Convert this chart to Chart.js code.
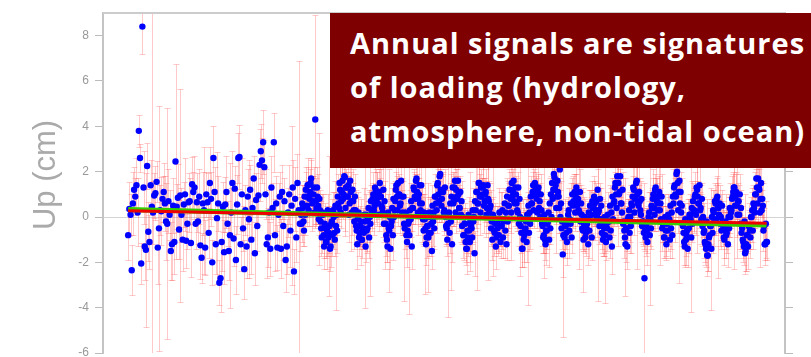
<!DOCTYPE html>
<html>
<head>
<meta charset="utf-8">
<script src="https://cdn.jsdelivr.net/npm/chart.js@4.4.0/dist/chart.umd.min.js"></script>
<style>
  body { margin: 0; background: #fff; }
  #wrap { position: relative; width: 811px; height: 357px; overflow: hidden; }
  #upTitle {
    position: absolute; left: -55px; top: 157px; width: 200px; height: 36px;
    line-height: 36px; text-align: center; transform: rotate(-90deg);
    font-family: "Liberation Sans", Arial, sans-serif; font-size: 31px; color: #aaa;
  }
  #note {
    position: absolute; left: 330px; top: 13px; width: 481px; height: 155px;
    box-sizing: border-box; padding: 8px 0 0 20px; background: #7f0000; color: #fff;
    font-family: "Open Sans", Lato, sans-serif; font-weight: bold; font-size: 29px;
    letter-spacing: 1px; line-height: 44px; white-space: nowrap; overflow: hidden;
  }
</style>
</head>
<body>
<div id="wrap">
  <canvas id="upChart" width="811" height="357"></canvas>
  <div id="upTitle">Up (cm)</div>
  <div id="note">Annual signals are signatures<br>of loading (hydrology,<br>atmosphere, non-tidal ocean)</div>
</div>
<script>
// sampling of the solutions (decimal years)
const epochStart = 1997.0;
const epochStep = 0.032;

// vertical position (cm)
const upEarly = [
  -0.8, 0.35, 0.1, -2.35, 0.6, 1.2, 0.9, 1.4, 0.2, 3.8,
  2.6, -2.05, 8.4, 1.3, -1.3, -1.45, 2.25, -0.65, -1.1, 1.4,
  0.45, 0.2, 0.95, 1.05, 1.55, -1.35, -0.5, 0.3, 0.25, 0.8,
  1.1, 0.6, -0.2, -0.3, 0.7, 0.1, -1.5, -1.2, 0.5, -1.1,
  2.45, 0.45, 0.85, -0.55, 0.95, 0.1, -1.0, 0.55, 1.0, -1.05,
  -0.3, 0.65, 0.7, -1.15, 1.45, 1.1, 1.3, -0.3, 0.65, -0.2,
  0.9, -1.25, -1.8, 0.6, 0.3, -1.35, 1.0, 0.65, -0.7, 1.5,
  0.8, -2.0, 2.6, 1.1, -1.2, -0.05, 0.6, -2.9, -2.7, -1.1,
  0.45, -1.55, 0.55, 1.1, -0.3, -1.5, -0.8, 0.2, 1.5, -0.95,
  1.25, -1.9, 0.55, 2.6, 2.65, -1.2, 1.0, -0.5, -2.3, 0.3,
  -1.3, 0.9, -0.1, 1.2, -1.0, 0.4, 1.7, -1.6, 0.75, -0.4,
  0.95, 2.3, 2.9, 2.5, 3.3, 2.2, 1.0, -1.2, -0.9, 0.2,
  -1.4, 1.3, 0.4, 3.3, -0.8, 0.6, -1.35, 0.1, 0.9, -1.4,
  1.1, -0.4, 0.7, -1.9, -1.3, 0.2, 1.0, -0.6, 0.5, 1.3,
  -2.4, 0.8, -0.9, 1.5, 0.3, -0.3
];

// late part, one row per half cycle (rise to a peak / fall to a trough)
const upLate = [
  0.1, 0.6, -0.2, 0.9, 1.2, 0.5, 1.4, 0.8, 1.5,
  1.0, 0.7, 1.3, 4.3, 0.4, 0.9, -0.1, 0.3, -0.5, 0.2, -0.8, -0.3, -1.1, -0.6, -0.9,
  -0.4, -1.3, -0.2, 0.3, -0.7, 0.5, 0.1, 0.9, 0.4, 1.2, 0.7, 1.6, 1.0, 1.75, 1.3,
  0.9, 1.4, 0.6, 1.1, 0.2, 0.7, -0.2, 0.3, -0.6, -0.1, -0.9, -0.4, -1.0, -0.5,
  -0.7, -0.2, 0.1, -0.5, 0.4, 0.0, 0.7, 0.3, 1.0, 0.5, 1.2, 0.8, 0.6, 1.1, 0.9,
  0.5, 0.2, -0.3, 0.1, -0.8, -1.3, -0.5,
  0.0, -0.4, 0.4, 0.8, 0.3, 1.2, 0.9, 1.5,
  1.0, 0.6, 0.9, 0.1, -0.3, 0.2, -0.8, -0.6,
  -0.2, 0.3, 0.7, 0.4, 1.3, 0.9, 1.6,
  1.1, 0.8, 1.4, 0.3, 0.6, -0.1, 0.2, -0.5, -0.9, -0.4,
  -0.7, 0.0, -0.3, 0.5, 0.2, 0.9, 0.6, 1.4, 1.0, 1.8, 1.2,
  0.8, 1.1, 0.3, 0.0, -0.5, -0.3,
  0.2, 0.6, 0.9, 1.3, 0.7, 1.6, 1.2,
  0.8, 1.0, 0.4, 0.1, -0.4, -0.8, -0.3, -1.1, -1.4, -0.9,
  -0.6, -0.2, -0.5, 0.3, 0.0, 0.7, 1.1, 0.6, 1.5, 0.9, 1.3,
  1.0, 1.4, 0.7, 1.1, 0.4, 0.8, 0.2, 0.5, -0.2, 0.1, -0.6, -0.3, -0.9, -0.5, -0.8,
  -0.4, -0.1, 0.3, -0.2, 0.6, 0.2, 0.9, 0.5, 1.2, 0.8, 1.5, 1.1, 0.7, 1.3,
  0.6, 0.2, -0.3, 0.0, -0.7, -1.4, -1.0,
  -0.6, -0.2, 0.1, 0.5, 0.2, 0.9, 0.6, 1.4, 1.0, 1.3,
  0.8, 1.1, 0.4, 0.0, 0.3, -0.4, -0.8, -1.0, -0.6,
  -0.3, 0.2, 0.6, 1.0, 1.5, 1.2, 1.75, 1.4,
  0.9, 1.1, 0.4, 0.0, -0.5, -1.65, -0.8, -0.4, -0.7,
  -0.2, 0.3, -0.1, 0.6, 1.0, 0.7, 1.1, 0.9,
  0.5, 0.8, 0.2, -0.2, 0.1, -0.6, -0.3, -0.9, -0.5,
  -0.1, 0.2, 0.5, 0.1, 0.7, 0.4, 0.6, 0.3,
  0.0, 0.2, -0.4, -0.1, -0.7, -1.0, -0.5, -0.8, -0.3,
  0.1, -0.2, 0.5, 0.2, 0.9, 0.6, 1.3, 1.0, 1.8, 1.5,
  1.1, 0.6, 0.2, -0.3, -0.6, -1.2,
  -0.5, -0.1, 0.3, 0.0, 0.6, 0.9, 1.2, 0.8, 1.5,
  1.0, 0.5, 0.7, 0.1, -0.4, -0.2, -2.7, -0.9,
  -0.6, -0.2, 0.2, -0.1, 0.5, 0.8, 0.4, 1.2, 0.9,
  0.6, 0.9, 0.3, -0.1, -0.5, -0.3, -0.9, -0.6,
  -0.3, 0.1, -0.1, 0.5, 0.2, 0.9, 1.3, 1.0, 1.9, 1.5,
  1.1, 0.6, 0.2, -0.3, -0.7, -1.3, -1.0,
  -0.6, -0.2, 0.1, -0.1, 0.4, 0.7, 0.3, 1.0, 1.3, 0.9,
  0.6, 0.3, -0.1, -0.4, -0.7, -1.1, -1.4, -1.7, -1.2,
  -0.8, -0.4, 0.0, 0.3, -0.2, 0.6, 0.8,
  0.4, 0.1, -0.3, -0.6, -0.2, -0.9, -0.5, -0.8,
  -0.4, 0.0, 0.4, 0.2, 0.8, 1.1, 1.3,
  0.9, 0.5, 0.7, 0.1, -0.3, -0.7, -1.0, -1.3, -1.6, -1.2,
  -0.8, -0.4, -0.6, 0.0, 0.3, 0.6, 0.2, 1.0, 1.3, 1.7,
  1.2, 0.8, 0.3, 0.5, -0.4, -1.2, -1.1
];

// second solution of each late epoch (half a step later), one row per high / low cluster
const upLateB = [
  -0.3, 0.4, -0.6, 0.1,
  0.9, 1.4, 0.3, 1.1, 1.7, 0.6, 1.0, 0.2, 0.7, 1.3, 0.5, 0.8,
  -0.2, -0.9, 0.1, -1.3, -0.5, -1.1, 0.3, -0.7, -1.4, -0.3, -0.8, 0.0, -1.0, -0.4, -0.6,
  0.6, 1.5, 0.2, 1.1, 0.8, 1.8, 0.4, 1.3, 0.9, 0.1, 1.6, 0.7, 1.2, 0.3, 0.9,
  -0.4, -1.2, 0.2, -0.7, -0.2, -1.0, -0.5, 0.1, -1.3, -0.6, -0.1, -0.9, -0.3, 0.3,
  0.8, 0.3, 1.3, 0.6, 1.0, 0.1, 1.5, 0.9, 0.4, 1.2, 0.7,
  -0.3, -1.0, 0.2, -0.6, -1.4, -0.2, -0.8, 0.0,
  0.7, 1.4, 0.3, 1.0, 0.5, 1.6, 0.2, 0.9,
  -0.5, 0.1, -1.1, -0.3, -0.8, -0.1, -1.3,
  0.4, 1.2, 0.8, 1.7, 0.2, 1.0, 0.6, 1.4, 0.1,
  -0.6, -0.1, -1.2, -0.4, -0.9, 0.2, -0.7, -1.5, -0.2, -0.5,
  0.9, 0.3, 1.5, 0.7, 1.9, 0.5, 1.1, 0.2, 1.3,
  -0.4, -1.0, 0.1, -0.7, -0.2, -1.2,
  0.6, 1.3, 0.2, 0.9, 1.6, 0.4, 1.1, 0.7, 0.0,
  -0.8, -0.3, -1.4, -0.6, 0.1, -1.1, -0.4, -0.9, -0.2, -1.6,
  0.3, 1.1, 0.6, 1.5, 0.2, 0.9, 1.3, 0.5, 1.0, 0.1, 1.4, 0.7, 0.4,
  -0.5, -1.0, 0.0, -0.7, -1.3, -0.3, -0.8, 0.2, -1.1, -0.4, -0.9, -0.1, -0.6, -1.2, -0.2,
  0.5, 1.2, 0.2, 0.9, 1.6, 0.6, 1.0, 0.3, 1.3, 0.8,
  -0.4, -1.4, -0.1, -0.8, -0.5, -1.1, 0.1, -0.7, -0.3,
  0.6, 1.1, 0.3, 1.5, 0.9, 0.2, 1.3, 0.7, 1.0,
  -0.3, -0.9, 0.1, -1.2, -0.6, -0.2, -1.0, -0.5, 0.0,
  0.8, 1.9, 1.2, 0.4, 1.6, 0.9, 2.1, 0.6,
  -0.2, -0.8, -0.9, -0.4, -1.1, 0.1, -0.6, -0.3, -0.9,
  0.5, 1.0, 0.2, 1.3, 0.7, 0.3, 1.1, 0.6,
  -0.5, -1.0, 0.0, -0.7, -0.3, -1.2, -0.6, 0.1, -0.9,
  0.4, 0.9, 0.1, 0.7, 1.2, 0.3, 0.8, 0.5,
  -0.3, -0.8, 0.0, -1.1, -0.5, -0.2, -0.9, -0.6, -1.3, -0.1,
  0.7, 1.5, 0.4, 2.3, 1.0, 1.8, 0.6, 1.2,
  -0.2, -0.9, -0.5, -1.3, 0.0, -0.7, -0.4,
  0.5, 1.3, 0.2, 0.9, 1.6, 0.6, 1.1, 0.3, 0.8,
  -0.2, -0.7, -0.6, -0.4, -1.1, 0.0, -0.8, -0.5,
  0.4, 1.0, 0.1, 1.3, 0.7, 0.3, 1.1, 0.6, 0.9,
  -0.3, -0.9, 0.0, -1.2, -0.6, -0.2, -1.0, -0.5, -0.8,
  0.6, 1.4, 0.9, 2.0, 0.3, 1.6, 1.1, 0.5,
  -0.4, -1.1, -0.1, -0.8, -1.4, -0.5, 0.1, -0.9, -0.3,
  0.3, 0.9, 0.1, 1.2, 0.6, 1.4, 0.4, 0.8, 0.0,
  -0.6, -1.2, -0.2, -1.7, -0.9, -0.4, -1.4, -0.7,
  0.2, 0.7, -0.1, 0.9, 0.4, 0.6, 0.0, 0.5,
  -0.4, -1.0, -0.2, -0.7, -1.2, -0.5, 0.0,
  0.3, 0.9, 1.3, 0.5, 1.1, 0.1, 0.7, 1.0, 0.4,
  -0.5, -1.1, -0.2, -1.5, -0.8, -1.3, -0.4, -0.9, 0.0, -0.6,
  0.4, 1.0, 1.7, 0.6, 1.3, 0.2, 1.5, 0.8,
  -0.6, -1.2, -0.3, -1.1
];

// one-sigma uncertainties (cm)
const sigmaEarly = [
  1.1, 1.2, 0.9, 1.1, 1.4, 1.0, 0.8, 1.2, 1.5, 0.7,
  0.6, 0.9, 1.2, 1.6, 1.5, 3.4, 1.0, 1.3, 1.2, 1.1,
  9.5, 1.4, 1.0, 1.2, 0.9, 1.6, 5.4, 1.1, 1.5, 1.0,
  1.3, 1.2, 1.7, 5.1, 1.4, 1.1, 1.3, 1.6, 1.2, 1.4,
  4.3, 1.0, 1.5, 1.3, 4.7, 1.2, 1.4, 1.0, 1.6, 1.2,
  1.1, 1.3, 1.0, 1.5, 1.2, 0.9, 1.4, 1.1, 1.3, 1.0,
  1.2, 1.5, 1.1, 1.4, 2.8, 1.2, 1.0, 1.3, 1.1, 1.6,
  1.2, 1.0, 1.4, 1.1, 1.3, 2.9, 1.2, 1.0, 1.5, 1.3,
  1.1, 1.4, 1.2, 1.6, 1.0, 1.3, 3.2, 1.1, 1.4, 1.2,
  1.0, 1.5, 1.3, 1.1, 1.4, 1.2, 1.6, 1.0, 1.3, 1.1,
  1.4, 1.2, 2.6, 1.1, 1.5, 1.3, 1.0, 1.4, 1.2, 1.1,
  1.3, 1.6, 1.2, 1.0, 1.4, 1.2, 1.1, 1.5, 1.3, 1.0,
  1.2, 1.4, 1.1, 1.3, 1.6, 1.2, 1.0, 1.4, 1.1, 1.3,
  1.2, 1.5, 1.0, 1.4, 1.2, 1.1, 1.3, 1.6, 3.5, 1.2,
  1.0, 1.4, 1.1, 1.3, 6.6, 1.2
];

const sigmaLate = [
  0.9, 0.8, 1.1, 0.7, 1.0, 0.9, 1.2, 0.8, 1.0, 0.7,
  1.1, 0.9, 4.6, 0.8, 1.0, 0.7, 0.9, 1.2, 0.8, 1.0,
  0.9, 0.7, 1.1, 0.8, 3.1, 0.9, 1.0, 0.8, 0.7, 1.1,
  0.9, 1.0, 0.8, 1.2, 0.7, 0.9, 1.0, 2.6, 0.8, 0.9,
  1.1, 0.7, 0.9, 1.0, 0.8, 1.2, 0.9, 0.7, 1.0, 0.8,
  0.9, 1.1, 0.8, 0.7, 3.8, 0.9, 1.0, 0.8, 1.1, 0.7,
  0.9, 1.0, 0.8, 0.9, 1.2, 0.7, 1.0, 0.8, 0.9, 1.1,
  0.8, 2.4, 0.9, 0.7, 1.0, 0.8, 1.1, 0.9, 0.7, 1.0,
  0.8, 0.9, 1.2, 0.7, 1.0, 0.8, 0.9, 3.4, 0.8, 1.0,
  0.7, 1.1, 0.9, 0.8, 1.0, 0.7, 0.9, 1.2, 0.8, 0.9,
  1.0, 0.7, 0.9, 1.1, 0.8, 2.9, 0.9, 0.7, 1.0, 0.8,
  1.2, 0.9, 0.7, 1.0, 0.8, 0.9, 1.1, 0.7, 0.9, 1.0,
  0.8, 0.9, 1.2, 0.7, 4.1, 0.8, 0.9, 1.0, 0.7, 1.1,
  0.8, 0.9, 1.0, 0.7, 0.9, 1.2, 0.8, 1.0, 0.7, 0.9,
  1.1, 0.8, 0.9, 2.2, 0.7, 1.0, 0.8, 0.9, 1.1, 0.7,
  0.9, 1.0, 0.8, 0.7, 1.2, 0.9, 1.0, 0.8, 3.6, 0.9,
  0.7, 1.0, 0.8, 1.1, 0.9, 0.7, 1.0, 0.8, 0.9, 1.2,
  0.8, 0.9, 0.7, 1.0, 0.8, 1.1, 0.9, 2.7, 0.8, 1.0,
  0.7, 0.9, 1.1, 0.8, 1.0, 0.7, 0.9, 0.8, 1.2, 0.9,
  1.0, 0.8, 4.4, 0.7, 0.9, 1.0, 0.8, 1.1, 0.7, 0.9,
  0.8, 1.0, 0.9, 0.7, 1.2, 0.8, 0.9, 1.0, 0.7, 0.9,
  1.1, 0.8, 0.9, 0.7, 1.0, 3.0, 0.8, 0.9, 1.1, 0.7,
  0.9, 1.0, 0.8, 1.2, 0.7, 0.9, 1.0, 0.8, 0.9, 0.7,
  1.1, 0.8, 1.0, 0.9, 0.7, 2.5, 0.8, 1.0, 0.9, 1.2,
  0.7, 0.9, 0.8, 1.0, 0.7, 1.1, 0.9, 0.8, 1.0, 0.7,
  0.9, 3.9, 0.8, 1.0, 0.9, 0.7, 1.2, 0.8, 0.9, 1.0,
  0.7, 0.9, 1.1, 0.8, 1.0, 0.7, 0.9, 0.8, 2.8, 1.0,
  0.8, 0.9, 0.7, 1.2, 0.8, 1.0, 0.9, 0.7, 1.1, 0.8,
  0.9, 1.0, 0.7, 0.8, 3.3, 0.9, 1.0, 0.8, 0.7, 1.1,
  4.2, 0.8, 1.0, 0.7, 0.9, 1.2, 0.8, 0.9, 1.0, 0.7,
  0.8, 1.1, 0.9, 2.4, 0.7, 1.0, 0.8, 0.9, 1.1, 0.8,
  0.9, 0.7, 1.0, 0.8, 1.2, 0.9, 0.7, 1.0, 0.8, 4.0,
  0.9, 0.8, 1.0, 0.7, 0.9, 1.1, 0.8, 1.0, 0.7, 0.9,
  1.2, 0.8, 0.9, 1.0, 2.9, 0.7, 0.9, 0.8, 1.1, 0.9,
  0.7, 1.0, 0.8, 0.9, 1.2, 0.7, 1.0, 0.8, 0.9, 1.1,
  0.8, 0.9, 3.1, 0.7, 1.0, 0.8, 0.9, 1.2, 0.7, 1.0,
  0.8, 0.9, 1.1, 0.7, 1.0, 0.8, 0.9, 1.0, 2.3, 0.8,
  0.9, 1.1, 0.7, 1.0, 0.8, 0.9, 1.2, 0.7, 1.0, 0.8,
  0.9, 1.0, 0.8, 0.7, 1.1, 0.9, 0.8, 1.0, 0.7, 0.9,
  1.0, 0.8, 0.9, 0.7
];

const sigmaLateB = [
  0.8, 1.0, 0.7, 0.9, 1.1, 0.8, 0.7, 1.0, 0.9, 1.2,
  0.8, 0.7, 1.0, 0.9, 0.8, 2.9, 1.1, 0.7, 0.9, 1.0,
  0.8, 1.2, 0.7, 0.9, 1.0, 0.8, 0.9, 1.1, 0.7, 3.7,
  1.0, 0.8, 0.9, 0.7, 1.1, 0.9, 0.8, 1.0, 0.7, 0.9,
  1.2, 0.8, 2.2, 0.9, 0.7, 1.0, 0.8, 1.1, 0.9, 0.7,
  1.0, 0.8, 0.9, 1.2, 0.7, 1.0, 0.8, 0.9, 3.2, 0.8,
  0.7, 1.1, 0.9, 0.8, 1.0, 0.7, 0.9, 1.2, 0.8, 1.0,
  0.9, 0.7, 1.0, 0.8, 2.7, 0.9, 0.7, 1.1, 0.8, 0.9,
  1.0, 0.7, 0.9, 1.2, 0.8, 1.0, 0.7, 0.9, 0.8, 1.1,
  0.9, 3.5, 0.8, 1.0, 0.7, 0.9, 1.1, 0.8, 1.0, 0.7,
  0.9, 0.8, 1.2, 0.7, 1.0, 0.9, 0.8, 2.4, 0.7, 1.0,
  0.8, 1.1, 0.9, 0.7, 1.0, 0.8, 0.9, 1.2, 0.7, 0.9,
  1.0, 0.8, 0.9, 0.7, 1.1, 0.9, 3.0, 0.8, 1.0, 0.7,
  0.9, 1.2, 0.8, 1.0, 0.7, 0.9, 0.8, 1.1, 0.9, 0.7,
  1.0, 0.8, 0.9, 1.1, 0.7, 0.9, 1.0, 0.8, 4.3, 0.9,
  0.7, 1.0, 0.8, 0.9, 1.2, 0.7, 1.0, 0.8, 0.9, 1.1,
  0.8, 0.9, 2.6, 0.7, 1.0, 0.8, 0.9, 1.1, 0.7, 1.0,
  0.9, 0.8, 1.2, 0.7, 0.9, 1.0, 0.8, 0.9, 1.1, 0.7,
  1.0, 0.8, 0.9, 0.7, 3.4, 1.0, 0.8, 0.9, 1.2, 0.7,
  0.9, 1.0, 0.8, 1.1, 0.7, 0.9, 0.8, 1.0, 0.9, 0.7,
  1.1, 0.8, 0.9, 1.0, 0.7, 2.8, 0.9, 0.8, 1.0, 1.2,
  0.7, 0.9, 0.8, 1.0, 0.9, 0.7, 1.1, 0.8, 0.9, 1.0,
  0.8, 4.5, 0.9, 0.7, 1.0, 0.8, 1.2, 0.9, 0.7, 1.0,
  0.9, 0.8, 1.1, 0.7, 0.9, 1.0, 0.8, 0.9, 2.3, 0.8,
  1.0, 0.7, 0.9, 1.2, 0.8, 1.0, 0.7, 0.9, 1.1, 0.8,
  0.9, 1.0, 0.7, 0.8, 1.1, 0.9, 3.8, 0.8, 1.0, 0.7,
  0.9, 0.8, 1.2, 0.7, 1.0, 0.9, 0.8, 1.0, 0.7, 0.9,
  1.1, 0.8, 0.9, 2.6, 0.7, 1.0, 0.8, 0.9, 1.2, 0.7,
  0.9, 1.0, 0.8, 0.9, 0.7, 1.1, 0.9, 0.8, 1.0, 0.7,
  0.9, 0.8, 1.0, 0.7, 3.1, 0.9, 0.8, 1.1, 0.7, 1.0,
  0.8, 0.9, 1.2, 0.7, 1.0, 0.8, 0.9, 1.0, 0.7, 0.9,
  1.1, 0.8, 0.9, 1.0, 0.7, 2.5, 0.9, 0.8, 1.0, 0.7,
  0.9, 1.2, 0.8, 1.0, 0.7, 0.9, 0.8, 1.1, 0.9, 3.3,
  0.8, 1.0, 0.7, 0.9, 1.1, 0.8, 0.9, 1.0, 0.7, 0.9,
  1.2, 0.8, 1.0, 0.7, 0.9, 0.8, 2.7, 0.9, 1.0, 0.8,
  0.7, 0.9, 1.1, 0.8, 1.0, 0.7, 0.9, 0.8, 1.2, 0.9,
  1.0, 0.8, 0.9, 0.7, 1.1, 3.6, 0.8, 0.9, 1.0, 0.7,
  0.9, 0.8, 1.0, 0.7, 1.2, 0.9, 0.8, 1.0, 0.7, 0.9,
  1.1, 0.8, 0.9, 1.0, 0.7, 0.9, 0.8, 2.4, 1.0, 0.8,
  0.9, 0.7, 1.0, 0.8
];

// trend lines (start / end of the series)
const trendEpochs = [1997.0, 2014.25];
const trendRed = [0.28, -0.28];
const trendGreen = [0.33, -0.35];

const yTicks = [-6, -4, -2, 0, 2, 4, 6, 8];

const up = upEarly.concat(upLate);
const sigma = sigmaEarly.concat(sigmaLate);
const epochs = up.map((v, i) => epochStart + i * epochStep);
const epochsB = upLateB.map((v, i) => epochStart + (upEarly.length + i + 0.5) * epochStep);

const points = up.map((v, i) => ({ x: epochs[i], y: v, s: sigma[i] }))
  .concat(upLateB.map((v, i) => ({ x: epochsB[i], y: v, s: sigmaLateB[i] })));
const redLine = trendEpochs.map((t, i) => ({ x: t, y: trendRed[i] }));
const greenLine = trendEpochs.map((t, i) => ({ x: t, y: trendGreen[i] }));

// error bars + top frame line
const errorBars = {
  id: 'errorBars',
  beforeDatasetsDraw(chart) {
    const { ctx, chartArea, scales: { x, y } } = chart;
    ctx.save();
    ctx.beginPath();
    ctx.rect(chartArea.left, chartArea.top, chartArea.width, chartArea.height);
    ctx.clip();
    ctx.strokeStyle = 'rgba(255, 90, 90, 0.33)';
    ctx.lineWidth = 1;
    points.forEach(p => {
      const px = Math.round(x.getPixelForValue(p.x)) + 0.5;
      const top = Math.round(y.getPixelForValue(p.y + p.s)) + 0.5;
      const bot = Math.round(y.getPixelForValue(p.y - p.s)) + 0.5;
      ctx.beginPath();
      ctx.moveTo(px, top);
      ctx.lineTo(px, bot);
      ctx.moveTo(px - 3, top);
      ctx.lineTo(px + 3, top);
      ctx.moveTo(px - 3, bot);
      ctx.lineTo(px + 3, bot);
      ctx.stroke();
    });
    ctx.restore();
  },
  afterDraw(chart) {
    const { ctx, chartArea } = chart;
    ctx.save();
    ctx.strokeStyle = '#cccccc';
    ctx.lineWidth = 2;
    ctx.beginPath();
    ctx.moveTo(chartArea.left, chartArea.top);
    ctx.lineTo(chartArea.right, chartArea.top);
    ctx.stroke();
    ctx.restore();
  }
};

const keepTicks = scale => { scale.ticks = yTicks.map(v => ({ value: v })); };
const noPad = width => scale => {
  scale.width = width;
  scale.paddingTop = 0;
  scale.paddingBottom = 0;
};

new Chart(document.getElementById('upChart').getContext('2d'), {
  type: 'scatter',
  data: {
    datasets: [
      {
        label: 'Trend',
        type: 'line',
        data: redLine,
        borderColor: '#ee0000',
        borderWidth: 3,
        pointRadius: 0,
        order: 0
      },
      {
        label: 'Model',
        type: 'line',
        data: greenLine,
        borderColor: '#33d000',
        borderWidth: 5,
        pointRadius: 0,
        order: 1
      },
      {
        label: 'Up',
        data: points,
        backgroundColor: '#0000ff',
        pointRadius: 3.2,
        pointBorderWidth: 0,
        order: 2
      }
    ]
  },
  options: {
    responsive: false,
    animation: false,
    layout: {
      padding: { top: 13, right: 0, bottom: 3, left: 0 }
    },
    plugins: {
      legend: { display: false },
      tooltip: { enabled: false }
    },
    scales: {
      x: {
        type: 'linear',
        min: 1996.32,
        max: 2014.75,
        display: false
      },
      y: {
        position: 'left',
        min: -6,
        max: 9,
        afterBuildTicks: keepTicks,
        afterFit: noPad(103),
        ticks: {
          color: '#999',
          padding: 6,
          font: { family: 'Liberation Sans, Arial, sans-serif', size: 12 }
        },
        grid: {
          color: ctx => (ctx.tick && ctx.tick.value === 0 ? '#d4d4d4' : 'rgba(0,0,0,0)'),
          tickColor: '#bbb',
          tickLength: 8
        },
        border: { color: '#c4c4c4', width: 2 }
      },
      y2: {
        position: 'right',
        min: -6,
        max: 9,
        afterBuildTicks: keepTicks,
        afterFit: noPad(26),
        ticks: { display: false },
        grid: {
          drawOnChartArea: false,
          tickColor: '#bbb',
          tickLength: 8
        },
        border: { color: '#c4c4c4', width: 2 }
      }
    }
  },
  plugins: [errorBars]
});
</script>
</body>
</html>
